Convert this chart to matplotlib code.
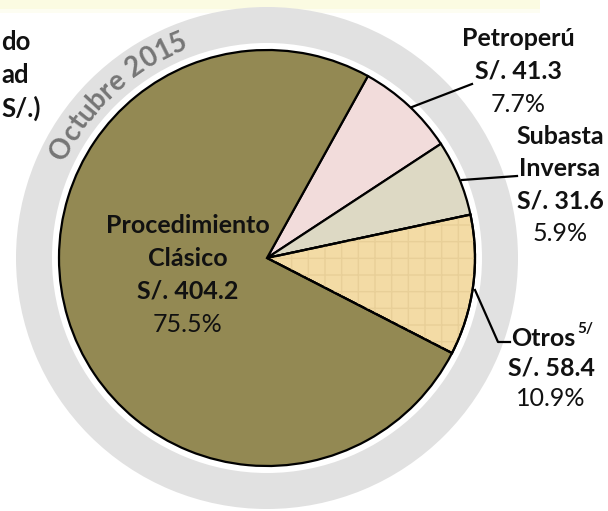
import numpy as np
import matplotlib.pyplot as plt
from matplotlib.patches import Wedge, Rectangle

# data
labels = ['Petroperú', 'Subasta Inversa', 'Otros', 'Procedimiento Clásico']
amounts = [41.3, 31.6, 58.4, 404.2]
shares = [7.7, 5.9, 10.9, 75.5]
colors = ['#f2dcdb', '#ddd9c4', '#f3dba5', '#938953']
period = 'Octubre 2015'
title_tail = ['do', 'ad', 'S/.)']

W, H = 608, 511
fig = plt.figure(figsize=(W / 100, H / 100), dpi=100)
ax = fig.add_axes([0, 0, 1, 1])

cx, cy = 267, H - 258
R = 208

# top band
ax.add_patch(Rectangle((0, H - 9), 540, 9, color='#fbfbe2', lw=0))
ax.add_patch(Rectangle((0, H - 13), 540, 4, color='#fdfdf2', lw=0))

# outer ring
ax.add_patch(Wedge((cx, cy), 251, 0, 360, width=36, color='#e1e1e1', lw=0))

wedges, _ = ax.pie(shares, colors=colors, startangle=61, counterclock=False,
                   center=(cx, cy), radius=R,
                   wedgeprops=dict(edgecolor='black', linewidth=1.6))

# texture on "Otros"
w = wedges[2]
ax.add_patch(Wedge((cx, cy), R, w.theta1, w.theta2, facecolor='none',
                   edgecolor='#e8cf98', hatch='+', lw=0, zorder=w.get_zorder() + 0.1))
ax.add_patch(Wedge((cx, cy), R, w.theta1, w.theta2, facecolor='none',
                   edgecolor='black', lw=1.6, zorder=w.get_zorder() + 0.2))

ax.set_xlim(0, W)
ax.set_ylim(0, H)
ax.set_aspect('equal')
ax.axis('off')

font = 'Lato'
bsize = 18
tcol = '#111111'


def block(x, y, lines, step=32):
    for i, (txt, bold) in enumerate(lines):
        ax.text(x, H - (y + i * step), txt, ha='center', va='center', family=font,
                fontsize=bsize, fontweight='bold' if bold else 'normal', color=tcol)


def fmt(v):
    return 'S/. %.1f' % v


block(188, 225, [('Procedimiento', True), ('Clásico', True),
                 (fmt(amounts[3]), True), ('%.1f%%' % shares[3], False)], step=33)
block(518, 38, [(labels[0], True), (fmt(amounts[0]), True),
                ('%.1f%%' % shares[0], False)], step=33)
block(560, 136, [('Subasta', True), ('Inversa', True), (fmt(amounts[1]), True),
                 ('%.1f%%' % shares[1], False)], step=32.5)
block(551, 368, [(fmt(amounts[2]), True), ('%.1f%%' % shares[2], False)], step=30)
otros = ax.text(511, H - 338, labels[2], ha='left', va='center', family=font,
                fontsize=bsize, fontweight='bold', color=tcol)

# leader lines
ax.plot([412, 472], [H - 107, H - 84], color='black', lw=1.6)
ax.plot([462, 517], [H - 180, H - 176], color='black', lw=1.6)
ax.plot([475, 498, 510], [H - 290, H - 342, H - 342], color='black', lw=1.6)

# cut title at left
for txt, y in zip(title_tail, [42, 75, 108]):
    ax.text(1, H - y, txt, ha='left', va='center', family=font,
            fontsize=18.5, fontweight='bold', color=tcol)

fig.canvas.draw()
rend = fig.canvas.get_renderer()
bb = otros.get_window_extent(renderer=rend)
ax.text(bb.x1 + 2, H - 329, '5/', ha='left', va='center', family=font,
        fontsize=11, fontweight='bold', color=tcol)

# curved text on the ring
r_txt = 232
fs_ring = 20
widths = []
for ch in period:
    t = ax.text(0, 0, ch if ch != ' ' else 'n', family=font, fontsize=fs_ring, fontweight='bold')
    b = t.get_window_extent(renderer=rend)
    widths.append(b.width * (0.5 if ch == ' ' else 1.0))
    t.remove()
gap = 0.3
total = sum(widths) + gap * (len(period) - 1)
ang = 132.5 + np.degrees(total / 2 / r_txt)
for ch, wd in zip(period, widths):
    a = ang - np.degrees(wd / 2 / r_txt)
    x = cx + r_txt * np.cos(np.radians(a))
    y = cy + r_txt * np.sin(np.radians(a))
    ax.text(x, y, ch, ha='center', va='center', rotation=a - 90, rotation_mode='anchor',
            family=font, fontsize=fs_ring, fontweight='bold', color='#767676')
    ang -= np.degrees((wd + gap) / r_txt)

fig.savefig('out.png', dpi=100)
